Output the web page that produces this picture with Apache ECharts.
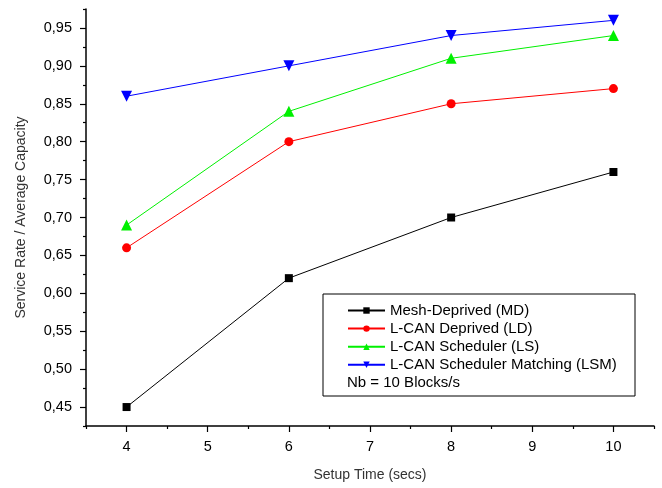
<!DOCTYPE html>
<html><head><meta charset="utf-8">
<script src="https://cdn.jsdelivr.net/npm/echarts@6/dist/echarts.min.js"></script>
<style>html,body{margin:0;padding:0;background:#fff}#c{width:662px;height:488px}</style>
</head><body><div id="c"></div>
<script>
const xValues = [4, 6, 8, 10];
const seriesNames = ['Mesh-Deprived (MD)', 'L-CAN Deprived (LD)', 'L-CAN Scheduler (LS)', 'L-CAN Scheduler Matching (LSM)'];
const mdValues = [0.45, 0.62, 0.70, 0.76];
const ldValues = [0.66, 0.80, 0.85, 0.87];
const lsValues = [0.69, 0.84, 0.91, 0.94];
const lsmValues = [0.86, 0.90, 0.94, 0.96];
const xMajorTicks = [4, 5, 6, 7, 8, 9, 10];
const xMinorTicks = [3.5, 4.5, 5.5, 6.5, 7.5, 8.5, 9.5, 10.5];
const yMajorTicks = [0.45, 0.50, 0.55, 0.60, 0.65, 0.70, 0.75, 0.80, 0.85, 0.90, 0.95];
const yMinorTicks = [0.425, 0.475, 0.525, 0.575, 0.625, 0.675, 0.725, 0.775, 0.825, 0.875, 0.925, 0.975];
const noteText = 'Nb = 10 Blocks/s';

const font = 'Arial, "Liberation Sans", sans-serif';
const chart = echarts.init(document.getElementById('c'), null, {renderer: 'canvas'});
const triDown = 'path://M0,0 L10,0 L5,9 Z';
const colors = ['#000000', '#ff0000', '#00f000', '#0000ff'];
const symbols = ['rect', 'circle', 'triangle', triDown];
const sizes = [8, 9, 11, 11];
const allData = [mdValues, ldValues, lsValues, lsmValues];

const series = allData.map((vals, i) => ({
  name: seriesNames[i],
  type: 'line',
  xAxisIndex: 0, yAxisIndex: 0,
  data: vals.map((v, j) => [xValues[j], v]),
  symbol: symbols[i],
  symbolSize: sizes[i],
  showAllSymbol: true,
  lineStyle: {color: colors[i], width: 1},
  itemStyle: {color: colors[i]},
  animation: false
}));

const commonX = {type: 'value', min: 3.5, max: 10.5, splitLine: {show: false}};
const commonY = {type: 'value', min: 0.425, max: 0.975, splitLine: {show: false}};

chart.setOption({
  animation: false,
  grid: {left: 86, top: 9, right: 8, bottom: 62, containLabel: false},
  xAxis: [
    Object.assign({}, commonX, {
      position: 'bottom',
      name: 'Setup Time (secs)', nameLocation: 'middle', nameGap: 42,
      nameTextStyle: {fontFamily: font, fontSize: 14, color: '#333'},
      axisLine: {show: true, onZero: false, lineStyle: {color: '#000', width: 1.5}},
      axisTick: {show: true, customValues: xMajorTicks, length: 6, lineStyle: {color: '#000', width: 1.2}},
      axisLabel: {customValues: xMajorTicks, fontFamily: font, fontSize: 14.5, color: '#000', margin: 13}
    }),
    Object.assign({}, commonX, {
      position: 'bottom',
      axisLine: {show: false, onZero: false},
      axisTick: {show: true, customValues: xMinorTicks, length: 3, lineStyle: {color: '#000', width: 1.2}},
      axisLabel: {show: false}
    })
  ],
  yAxis: [
    Object.assign({}, commonY, {
      position: 'left',
      name: 'Service Rate / Average Capacity', nameLocation: 'middle', nameGap: 58, nameRotate: 90,
      nameTextStyle: {fontFamily: font, fontSize: 14, color: '#333'},
      axisLine: {show: true, onZero: false, lineStyle: {color: '#000', width: 1.5}},
      axisTick: {show: true, customValues: yMajorTicks, length: 6, lineStyle: {color: '#000', width: 1.2}},
      axisLabel: {customValues: yMajorTicks, fontFamily: font, fontSize: 14.5, color: '#000', margin: 14,
        formatter: v => v.toFixed(2).replace('.', ',')}
    }),
    Object.assign({}, commonY, {
      position: 'left',
      axisLine: {show: false, onZero: false},
      axisTick: {show: true, customValues: yMinorTicks, length: 3, lineStyle: {color: '#000', width: 1.2}},
      axisLabel: {show: false}
    })
  ],
  legend: {
    orient: 'vertical', left: 347, top: 303, padding: 0,
    itemWidth: 37, itemHeight: 8, itemGap: 3.1,
    textStyle: {fontFamily: font, fontSize: 15, color: '#000'},
    data: seriesNames
  },
  graphic: [
    {type: 'rect', shape: {x: 323, y: 294, width: 312, height: 102}, style: {fill: 'none', stroke: '#000', lineWidth: 1}, z: 100},
    {type: 'text', left: 347, top: 375, style: {text: noteText, font: '15px ' + font, fill: '#000'}, z: 100}
  ],
  series: series
});
</script></body></html>
